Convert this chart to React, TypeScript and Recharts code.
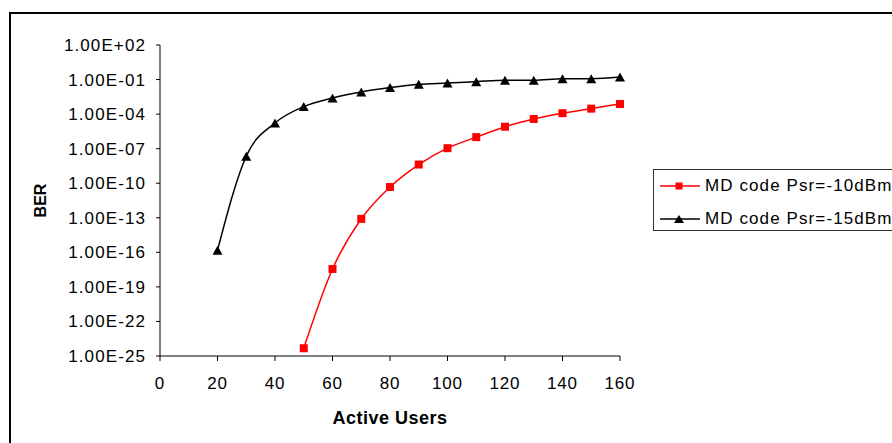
import { LineChart, Line, XAxis, YAxis, Legend } from 'recharts';

const users = [20, 30, 40, 50, 60, 70, 80, 90, 100, 110, 120, 130, 140, 150, 160];
const berPsr10 = [null, null, null, 4.7e-25, 3.6e-18, 8e-14, 4.7e-11, 4.2e-9, 1.1e-7, 1e-6, 8e-6, 3.8e-5, 1.2e-4, 3e-4, 7.6e-4];
const berPsr15 = [1.5e-16, 2.2e-8, 1.7e-5, 4.5e-4, 2.5e-3, 8.3e-3, 2e-2, 3.9e-2, 5e-2, 6.6e-2, 8.7e-2, 8.7e-2, 1.2e-1, 1.2e-1, 1.66e-1];
const seriesNames = ['MD code Psr=-10dBm', 'MD code Psr=-15dBm'];
const xTicks = [0, 20, 40, 60, 80, 100, 120, 140, 160];
const yTicks = [1e2, 1e-1, 1e-4, 1e-7, 1e-10, 1e-13, 1e-16, 1e-19, 1e-22, 1e-25];

const data = users.map((u, i) => ({ users: u, psr10: berPsr10[i], psr15: berPsr15[i] }));

const FONT = '"Liberation Sans", Arial, sans-serif';

// Excel style: 1.00E-04
function fmtExp(v: number) {
    const [m, e] = v.toExponential(2).split('e');
    const sign = e[0] === '-' ? '-' : '+';
    const digits = e.replace(/^[+-]/, '').padStart(2, '0');
    return `${m}E${sign}${digits}`;
}

function Square(p: any) {
    if (p.cx == null || p.cy == null) return <g key={p.key} />;
    return <rect key={p.key} x={p.cx - 4} y={p.cy - 4} width={8} height={8} fill="#ff0000" />;
}

function Triangle(p: any) {
    if (p.cx == null || p.cy == null) return <g key={p.key} />;
    const { cx, cy } = p;
    return (
        <polygon key={p.key} fill="#000"
            points={`${cx - 5},${cy + 4.5} ${cx + 5},${cy + 4.5} ${cx},${cy - 4.5}`} />
    );
}

function LegendBox() {
    const rows = [
        { name: seriesNames[0], color: '#ff0000', marker: 'square' },
        { name: seriesNames[1], color: '#000', marker: 'triangle' },
    ];
    return (
        <div style={{
            border: '1px solid #333', width: 280, height: 62, boxSizing: 'border-box',
            fontFamily: FONT, fontSize: 17, letterSpacing: 1.1, background: '#fff',
        }}>
            {rows.map((r, i) => (
                <div key={r.name} style={{ position: 'absolute', left: 7, top: 7 + i * 33, height: 20, display: 'flex', alignItems: 'center' }}>
                    <svg width={40} height={20}>
                        <line x1={0} x2={40} y1={10} y2={10} stroke={r.color} strokeWidth={1.5} />
                        {r.marker === 'square'
                            ? <rect x={15.5} y={6.5} width={7} height={7} fill={r.color} />
                            : <polygon points="14,14 24,14 19,6" fill={r.color} />}
                    </svg>
                    <span style={{ marginLeft: 5, whiteSpace: 'nowrap', color: '#000' }}>{r.name}</span>
                </div>
            ))}
        </div>
    );
}

export default function App() {
    return (
        <div style={{ position: 'absolute', left: 0, top: 0, width: 892, height: 443, overflow: 'hidden', background: '#fff' }}>
            <div style={{ position: 'absolute', left: 9, top: 12, width: 920, height: 460, border: '2px solid #000' }} />
            <LineChart width={892} height={443} data={data}
                margin={{ top: 45, right: 272, bottom: 17, left: 10 }}>
                <XAxis dataKey="users" type="number" domain={[0, 160]} ticks={xTicks}
                    stroke="#000" tickSize={5} tickMargin={16} height={70}
                    tick={{ fill: '#000', fontSize: 17, fontFamily: FONT, letterSpacing: 0.8 }}
                    label={{ value: 'Active Users', position: 'insideBottom', offset: 2, fill: '#000', fontSize: 18, fontWeight: 'bold', fontFamily: FONT, letterSpacing: 0.5 }} />
                <YAxis type="number" scale="log" domain={[1e-25, 1e2]} ticks={yTicks} allowDataOverflow
                    tickFormatter={fmtExp} stroke="#000" tickSize={4} tickMargin={10} width={150}
                    tick={{ fill: '#000', fontSize: 17, fontFamily: FONT, letterSpacing: 1.1 }}
                    label={{ value: 'BER', angle: -90, position: 'insideLeft', offset: 30, fill: '#000', fontSize: 16, fontWeight: 'bold', fontFamily: FONT, style: { textAnchor: 'middle' } }} />
                <Legend layout="vertical" align="center" verticalAlign="middle"
                    wrapperStyle={{ position: 'absolute', left: 653, top: 169, width: 280 }}
                    content={() => <LegendBox />} />
                <Line type="monotone" dataKey="psr10" name={seriesNames[0]} stroke="#ff0000" strokeWidth={1.5}
                    dot={(p: any) => <Square key={`sq-${p.index}`} {...p} />} isAnimationActive={false} />
                <Line type="monotone" dataKey="psr15" name={seriesNames[1]} stroke="#000" strokeWidth={1.5}
                    dot={(p: any) => <Triangle key={`tr-${p.index}`} {...p} />} isAnimationActive={false} />
            </LineChart>
        </div>
    );
}
